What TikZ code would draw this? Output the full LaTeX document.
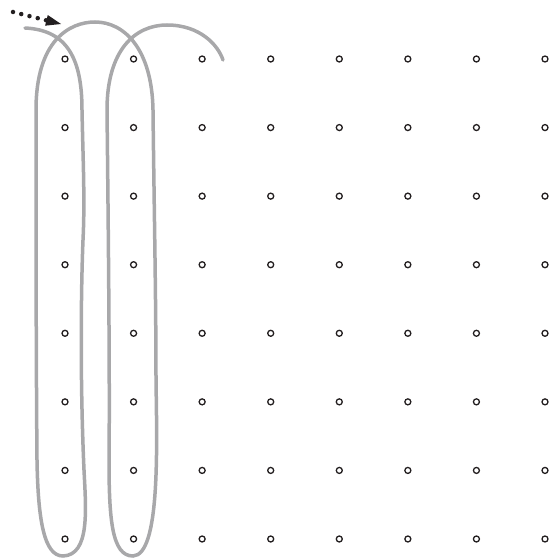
\documentclass[tikz,border=0pt]{standalone}
\definecolor{pathGray}{HTML}{A8A8AA}
\definecolor{pinBlack}{HTML}{231F20}
\usepackage{tikz}
\usetikzlibrary{arrows.meta}

\begin{document}
\begin{tikzpicture}[
        x=1pt, y=-1pt,
        pin/.style={circle, draw=pinBlack, line width=1.3pt, minimum size=6pt, inner sep=0pt},
        thread/.style={pathGray, line width=3.5pt, line cap=round},
        lead/.style={pinBlack, line width=4.5pt, line cap=round, dash pattern=on 0pt off 8.5pt}
      ]
        \useasboundingbox (0,0) rectangle (558,559);

        % pin grid
        \foreach \i in {0,...,7}
          \foreach \j in {0,...,7}
            \node[pin] (p-\i-\j) at (65+68.57*\i, 59+68.57*\j) {};

        % thread winding round the first two columns
        \draw[thread] (25,28) .. controls (68,30) and (82,60) .. (82,110)
          .. controls (83,160) and (85,200) .. (83,240)
          .. controls (81,290) and (80,380) .. (84,470)
          .. controls (86,510) and (90,555) .. (63,556)
          .. controls (44,556) and (38,520) .. (37,460)
          .. controls (36,350) and (36,200) .. (36,110)
          .. controls (36,40) and (70,22) .. (95,22)
          .. controls (125,22) and (152,50) .. (153,110)
          .. controls (154,200) and (156,300) .. (156,380)
          .. controls (157,450) and (160,555) .. (133,556)
          .. controls (112,556) and (109,520) .. (109,460)
          .. controls (110,380) and (108,200) .. (107,110)
          .. controls (107,50) and (135,25) .. (167,25)
          .. controls (200,25) and (218,45) .. (223,60);

        % lead-in arrow
        \coordinate (leadtail) at (13,12);
        \coordinate (leadtip) at (61,24);
        \draw[lead, -{Triangle[length=15pt, width=11pt, line width=0pt]}] (leadtail) -- (leadtip);
      \end{tikzpicture}
\end{document}
